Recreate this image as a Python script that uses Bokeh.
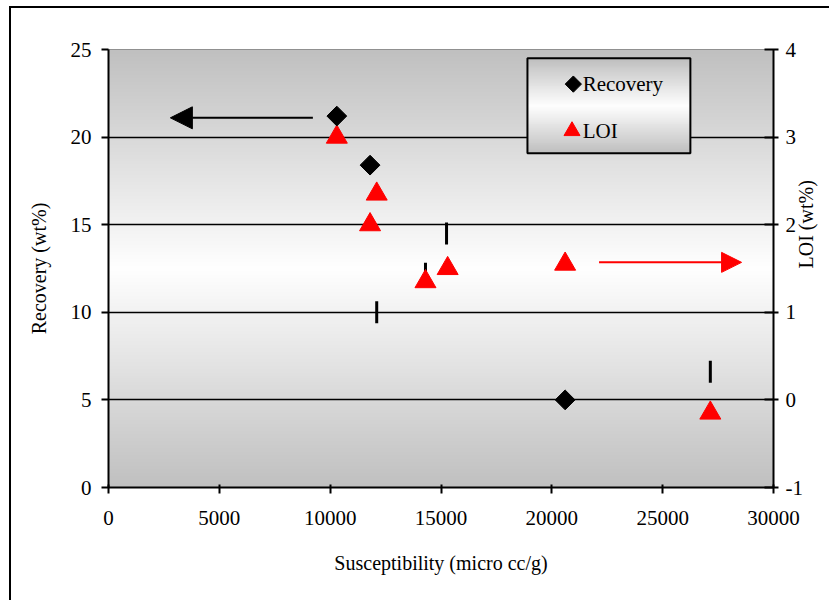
import numpy as np
from bokeh.plotting import figure
from bokeh.models import (Range1d, LinearAxis, FixedTicker, Arrow, NormalHead,
                          CustomJSTickFormatter)
from bokeh.core.properties import value
from bokeh.embed import file_html
from bokeh.resources import INLINE

# ---------------- data ----------------
rec_x = [10300, 11800, 20600]
rec_y = [21.2, 18.4, 5.0]
loi_x = [10300, 12100, 11800, 14300, 15300, 20600, 27150]
loi_y = [3.0, 2.35, 2.0, 1.35, 1.5, 1.55, -0.15]
bar_x = [12100, 14300, 15250, 27150]
bar_y = [10.0, 12.2, 14.5, 6.6]
x_ticks = [0, 5000, 10000, 15000, 20000, 25000, 30000]
rec_ticks = [0, 5, 10, 15, 20, 25]
loi_ticks = [-1, 0, 1, 2, 3, 4]
series_names = ["Recovery", "LOI"]

FONT = "Liberation Serif"
X0, X1 = 0, 30000
Y0, Y1 = 0, 25
L0, L1 = -1, 4

p = figure(width=820, height=594, output_backend="svg", toolbar_location=None,
           x_range=Range1d(X0, X1), y_range=Range1d(Y0, Y1),
           min_border_left=97, min_border_right=58, min_border_top=41, min_border_bottom=115,
           background_fill_color=None, border_fill_color="white",
           outline_line_color="#808080", outline_line_width=1)
p.styles = {"border-left": "2px solid black", "border-top": "2px solid black",
            "margin-left": "9px", "margin-top": "6px"}
p.extra_y_ranges = {"loi": Range1d(L0, L1)}

# gradient background (gray - white - gray)
def grad_img(n):
    t = np.linspace(0.0, 1.0, n)
    g = (192 + 63 * (1 - np.abs(t - 0.5) * 2)).astype(np.uint8)
    img = np.zeros((n, 4), dtype=np.uint32)
    v = img.view(dtype=np.uint8).reshape((n, 4, 4))
    for c in range(3):
        v[:, :, c] = g[:, None]
    v[:, :, 3] = 255
    return img

p.image_rgba(image=[grad_img(440)], x=X0, y=Y0, dw=X1 - X0, dh=Y1 - Y0, level="image")

fmt = CustomJSTickFormatter(code="return tick.toString()")

# axes
xa = p.xaxis[0]
xa.ticker = FixedTicker(ticks=x_ticks)
xa.axis_label = "Susceptibility (micro cc/g)"
ya = p.yaxis[0]
ya.ticker = FixedTicker(ticks=rec_ticks)
ya.axis_label = "Recovery (wt%)"
ra = LinearAxis(y_range_name="loi", ticker=FixedTicker(ticks=loi_ticks), axis_label="LOI (wt%)")
if hasattr(ra, "axis_label_orientation"):
    ra.axis_label_orientation = np.pi / 2
p.add_layout(ra, "right")

for ax in (xa, ya, ra):
    ax.formatter = fmt
    ax.axis_line_color = "black"
    ax.axis_line_width = 2
    ax.major_tick_line_color = "black"
    ax.major_tick_line_width = 2
    ax.minor_tick_line_color = None
    ax.major_label_text_font = FONT
    ax.major_label_text_font_size = "21px"
    ax.major_label_text_color = "black"
    ax.axis_label_text_font = FONT
    ax.axis_label_text_font_size = "20px"
    ax.axis_label_text_font_style = "normal"
    ax.axis_label_text_color = "black"

xa.major_tick_out = 6
xa.major_tick_in = 3
xa.major_label_standoff = 17
xa.axis_label_standoff = 24
ya.major_tick_out = 7
ya.major_tick_in = 0
ya.major_label_standoff = 10
ya.axis_label_standoff = 18
ra.major_tick_out = 5
ra.major_tick_in = 9
ra.major_label_standoff = 7
ra.axis_label_standoff = 0

p.xgrid.grid_line_color = None
p.ygrid.ticker = FixedTicker(ticks=rec_ticks)
p.ygrid.grid_line_color = "black"
p.ygrid.grid_line_width = 1.5

# data marks
p.scatter(bar_x, bar_y, marker="dash", angle=np.pi / 2, size=22, line_color="black", line_width=3)
p.scatter(loi_x, loi_y, marker="triangle", size=21, fill_color="red", line_color="red",
          y_range_name="loi")
p.scatter(rec_x, rec_y, marker="square", angle=np.pi / 4, size=14, fill_color="black",
          line_color="black")

# arrows
p.add_layout(Arrow(end=NormalHead(size=22, fill_color="black", line_color="black"),
                   x_start=9220, y_start=21.1, x_end=2790, y_end=21.1,
                   line_color="black", line_width=2))
p.add_layout(Arrow(end=NormalHead(size=20, fill_color="red", line_color="red"),
                   x_start=22130, y_start=1.57, x_end=28560, y_end=1.57,
                   line_color="red", line_width=2, y_range_name="loi"))

# legend (drawn by hand with gradient background)
def fx(f):
    return X0 + f * (X1 - X0)

def fy(f):
    return Y0 + f * (Y1 - Y0)

lg_l, lg_r, lg_b, lg_t = fx(0.630), fx(0.875), fy(0.763), fy(0.980)
p.image_rgba(image=[grad_img(100)], x=lg_l, y=lg_b, dw=lg_r - lg_l, dh=lg_t - lg_b, level="glyph")
p.quad(left=[lg_l], right=[lg_r], bottom=[lg_b], top=[lg_t], fill_alpha=0,
       line_color="black", line_width=2)
row_y = [fy(0.921), fy(0.814)]
p.scatter([fx(0.699)], [row_y[0]], marker="square", angle=np.pi / 4, size=11.5,
          fill_color="black", line_color="black")
p.scatter([fx(0.697)], [row_y[1]], marker="triangle", size=16, fill_color="red", line_color="red")
p.text([fx(0.713)] * 2, row_y, text=series_names, text_font=value(FONT),
       text_font_size="21px", text_baseline="middle", text_align="left", text_color="black")

open("out.html", "w").write(file_html(p, INLINE))
